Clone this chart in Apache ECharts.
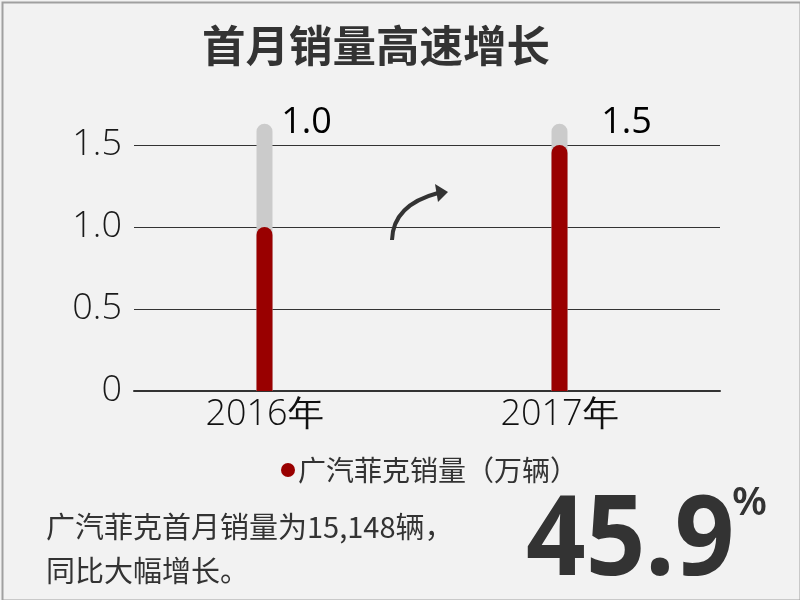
<!DOCTYPE html>
<html>
<head>
<meta charset="utf-8">
<script src="https://cdn.jsdelivr.net/npm/echarts@6/dist/echarts.min.js"></script>
<style>
html,body{margin:0;padding:0;background:#f2f2f2;}
#chart{width:800px;height:600px;}
</style>
</head>
<body>
<div id="chart"></div>
<script>
// ---- data ----
const titleText = '首月销量高速增长';
const categories = ['2016年', '2017年'];
const seriesName = '广汽菲克销量（万辆）';
const salesValues = [1.0, 1.5];
const trackValues = [1.63, 1.63];
const valueLabels = ['1.0', '1.5'];
const yTickLabels = ['0', '0.5', '1.0', '1.5'];
const noteLines = ['广汽菲克首月销量为15,148辆，', '同比大幅增长。'];
const growthValue = '45.9';
const growthUnit = '%';

// ---- styles / layout ----
const CJK = '"Noto Sans CJK SC", "Noto Sans", sans-serif';
const THIN = '"Open Sans", "Noto Sans", sans-serif';
const labelOffsets = [[42, 22], [67, 22]];

const chart = echarts.init(document.getElementById('chart'), null, {renderer: 'canvas'});

const option = {
  backgroundColor: '#f2f2f2',
  animation: false,
  title: {
    text: titleText,
    left: 197,
    top: 19,
    textStyle: {fontSize: 43.5, fontWeight: 'bold', color: '#333', fontFamily: CJK}
  },
  legend: {
    data: [seriesName],
    left: 276,
    top: 451,
    icon: 'circle',
    itemWidth: 14,
    itemHeight: 14,
    itemGap: 4,
    textStyle: {fontSize: 28, color: '#333', fontFamily: CJK, padding: [0, 0, 0, -2]}
  },
  grid: [
    {left: 134, right: 80, top: 145, bottom: 209},
    {left: 117, right: 93, top: 63, bottom: 209}
  ],
  xAxis: [
    {
      gridIndex: 0, type: 'category', data: categories,
      axisLine: {show: true, lineStyle: {color: '#333', width: 2}},
      axisTick: {show: false}, axisLabel: {show: false}, splitLine: {show: false}
    },
    {
      gridIndex: 1, type: 'category', data: categories,
      axisLine: {show: false}, axisTick: {show: false},
      axisLabel: {fontSize: 36, color: '#111', margin: 6, fontFamily: THIN, fontWeight: 300}
    }
  ],
  yAxis: [
    {
      gridIndex: 0, type: 'value', min: 0, max: 1.5, interval: 0.5,
      axisLine: {show: false}, axisTick: {show: false},
      axisLabel: {
        fontSize: 36, color: '#1a1a1a', margin: 12, fontFamily: THIN, fontWeight: 300,
        formatter: (v) => yTickLabels[Math.round(v / 0.5)]
      },
      splitLine: {show: true, lineStyle: {color: '#333', width: 1}}
    },
    {
      gridIndex: 1, type: 'value', min: 0, max: 2, show: false,
      splitLine: {show: false}
    }
  ],
  series: [
    {
      name: 'track', type: 'bar', xAxisIndex: 1, yAxisIndex: 1,
      barWidth: 16, barGap: '-100%',
      itemStyle: {color: '#cbcbcb', borderRadius: [8, 8, 0, 0]},
      data: trackValues.map((v, i) => ({
        value: v,
        label: {
          show: true, position: 'top', offset: labelOffsets[i],
          formatter: () => valueLabels[i],
          fontSize: 36, color: '#000', fontFamily: THIN
        }
      })),
      silent: true
    },
    {
      name: seriesName, type: 'bar', xAxisIndex: 1, yAxisIndex: 1,
      barWidth: 16, barGap: '-100%',
      itemStyle: {color: '#990000', borderRadius: [8, 8, 0, 0]},
      data: salesValues
    }
  ],
  graphic: [
    {
      type: 'rect', left: 0, top: 0, silent: true, z: 100,
      shape: {x: 1, y: 1, width: 798, height: 598},
      style: {fill: 'none', stroke: '#a0a0a0', lineWidth: 2}
    },
    {
      type: 'bezierCurve', silent: true, z: 100,
      shape: {x1: 392, y1: 240, x2: 438, y2: 193, cpx1: 393, cpy1: 205},
      style: {fill: 'none', stroke: '#333', lineWidth: 4}
    },
    {
      type: 'polygon', silent: true, z: 100,
      shape: {points: [[435, 184], [448, 192], [438, 202]]},
      style: {fill: '#333'}
    },
    {
      type: 'text', x: 46, y: 527, silent: true, z: 100,
      style: {text: noteLines[0], font: '29px ' + CJK, fill: '#333', verticalAlign: 'middle'}
    },
    {
      type: 'text', x: 46, y: 571, silent: true, z: 100,
      style: {text: noteLines[1], font: '29px ' + CJK, fill: '#333', verticalAlign: 'middle'}
    },
    {
      type: 'text', x: 526, y: 543, scaleX: 0.94, silent: true, z: 100,
      style: {text: growthValue, font: 'bold 111px "Noto Sans", sans-serif', fill: '#333', verticalAlign: 'middle'}
    },
    {
      type: 'text', x: 732, y: 504, silent: true, z: 100,
      style: {text: growthUnit, font: '600 40px "Noto Sans", sans-serif', fill: '#333', verticalAlign: 'middle'}
    }
  ]
};
chart.setOption(option);
</script>
</body>
</html>
